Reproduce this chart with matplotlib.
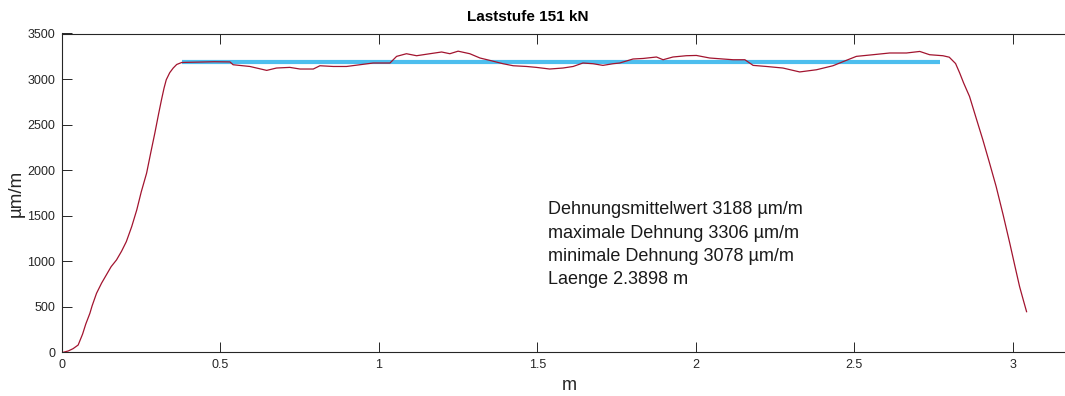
import matplotlib
matplotlib.use("Agg")
import matplotlib.pyplot as plt

plt.rcParams['font.family'] = ['Liberation Sans', 'DejaVu Sans']

# strain along the member (m, µm/m)
pos_m = [0.004, 0.020, 0.035, 0.051, 0.065, 0.075, 0.088, 0.095, 0.109, 0.125,
         0.140, 0.155, 0.172, 0.188, 0.203, 0.220, 0.236, 0.250, 0.267, 0.280,
         0.293, 0.305, 0.314, 0.322, 0.329, 0.340, 0.351, 0.362, 0.378, 0.430,
         0.480, 0.530, 0.540, 0.593, 0.646, 0.677, 0.719, 0.751, 0.793, 0.814,
         0.856, 0.898, 0.940, 0.982, 1.035, 1.056, 1.087, 1.119, 1.161, 1.198,
         1.224, 1.250, 1.287, 1.319, 1.350, 1.392, 1.424, 1.466, 1.497, 1.539,
         1.581, 1.613, 1.644, 1.676, 1.707, 1.739, 1.760, 1.802, 1.834, 1.876,
         1.897, 1.928, 1.970, 2.002, 2.044, 2.086, 2.118, 2.155, 2.181, 2.223,
         2.275, 2.328, 2.381, 2.433, 2.475, 2.507, 2.559, 2.612, 2.665, 2.707,
         2.738, 2.780, 2.800, 2.820, 2.833, 2.845, 2.855, 2.864, 2.885, 2.906,
         2.927, 2.948, 2.970, 2.991, 3.007, 3.022, 3.034, 3.044]
strain = [0, 15, 40, 80, 200, 310, 428, 510, 648, 760,
          850, 940, 1014, 1110, 1215, 1380, 1564, 1760, 1967, 2190,
          2407, 2620, 2773, 2900, 2992, 3070, 3121, 3160, 3182, 3186,
          3190, 3188, 3157, 3138, 3095, 3121, 3128, 3110, 3110, 3146,
          3138, 3138, 3157, 3176, 3176, 3249, 3278, 3256, 3278, 3297,
          3278, 3306, 3278, 3231, 3205, 3168, 3146, 3138, 3128, 3110,
          3121, 3138, 3176, 3168, 3150, 3168, 3176, 3220, 3226, 3242,
          3212, 3242, 3256, 3259, 3231, 3220, 3212, 3212, 3150, 3138,
          3121, 3078, 3102, 3146, 3205, 3249, 3267, 3286, 3286, 3303,
          3267, 3256, 3240, 3170, 3066, 2960, 2880, 2809, 2570, 2333,
          2080, 1820, 1510, 1198, 950, 721, 570, 446]

mean_strain = 3188
max_strain = 3306
min_strain = 3078
span_start = 0.38
span_length = 2.3898

title = "Laststufe 151 kN"
info_lines = [
    f"Dehnungsmittelwert {mean_strain} µm/m",
    f"maximale Dehnung {max_strain} µm/m",
    f"minimale Dehnung {min_strain} µm/m",
    f"Laenge {span_length} m",
]
x_ticks = [0, 0.5, 1, 1.5, 2, 2.5, 3]
x_ticklabels = ["0", "0.5", "1", "1.5", "2", "2.5", "3"]
y_ticks = [0, 500, 1000, 1500, 2000, 2500, 3000, 3500]

W, H = 1065, 396
fig = plt.figure(figsize=(W / 100, H / 100), dpi=100)
ax_left, ax_right, ax_top, ax_bottom = 62, 1076, 33.5, 352.3
ax = fig.add_axes([ax_left / W, 1 - ax_bottom / H,
                   (ax_right - ax_left) / W, (ax_bottom - ax_top) / H])

ax.plot(pos_m, strain, color='#A2142F', lw=0.9, zorder=3)
ax.plot([span_start, span_start + span_length], [mean_strain, mean_strain],
        color='#4DBEEE', lw=3.0, solid_capstyle='butt', zorder=2)

ax.set_xlim(0, 3.2)
ax.set_ylim(0, 3500)
ax.set_xticks(x_ticks)
ax.set_xticklabels(x_ticklabels)
ax.set_yticks(y_ticks)

axis_col = '#262626'
for s in ax.spines.values():
    s.set_color(axis_col)
    s.set_linewidth(0.8)
ax.tick_params(direction='in', length=7, width=0.7, colors=axis_col,
               labelsize=9, top=True, right=False, pad=5)

ax.set_xlabel("m", fontsize=13, color=axis_col, labelpad=4)
ax.set_ylabel("µm/m", fontsize=13.5, color=axis_col, labelpad=2)

fig.text(528 / W, 1 - 17 / H, title, ha='center', va='center',
         fontsize=11, fontweight='bold', color='black')

for i, line in enumerate(info_lines):
    fig.text(548 / W, 1 - (210 + i * 23.3) / H, line, ha='left', va='center',
             fontsize=13, color='#1a1a1a')

fig.savefig("out.png", dpi=100)
